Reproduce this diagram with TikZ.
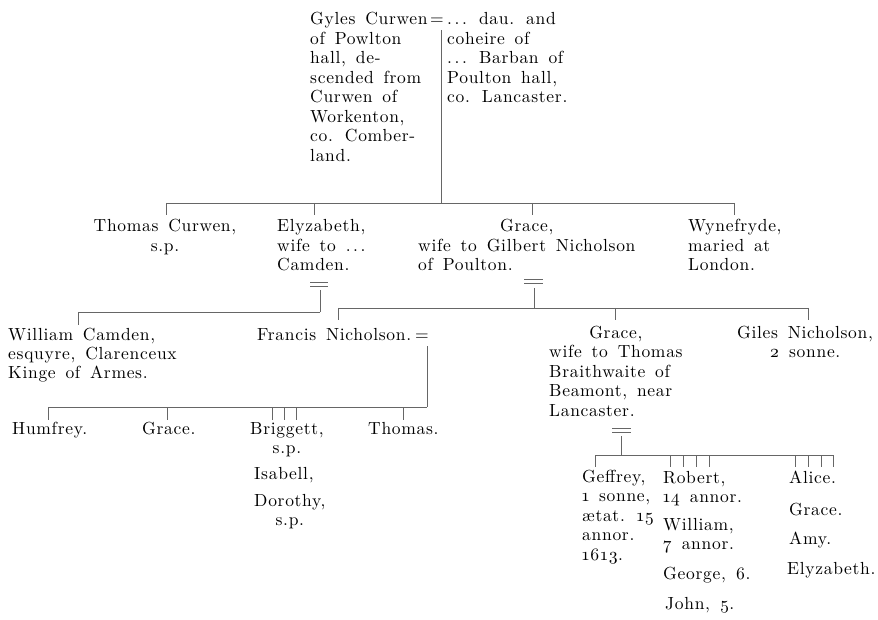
\documentclass[tikz,border=0pt]{standalone}
\usepackage{array}
\usepackage{fontspec}
\setmainfont{lmroman10-regular.otf}[LetterSpace=4, WordSpace=1.5]
\newcommand\Lb[1]{\begin{tabular}[t]{@{}l@{}}#1\end{tabular}}
\newcommand\Cb[1]{\begin{tabular}[t]{@{}c@{}}#1\end{tabular}}
\newcommand\os[1]{\oldstylenums{#1}}
\newcommand\dd{.\hspace{0.15em}.\hspace{0.15em}.}
\begin{document}
\begin{tikzpicture}[x=1pt,y=-1pt,
  txt/.style={inner sep=0pt, anchor=base west, font=\fontsize{17.5}{19.5}\selectfont, text=black},
  ctxt/.style={txt, anchor=base},
  ln/.style={line width=0.6pt, draw=black!60}]
\useasboundingbox (0,0) rectangle (878,620);

% ---- generation 1
\node[txt] (gyles) at (310,25) {\Lb{Gyles Curwen\\of Powlton\\hall, de-\\scended from\\Curwen of\\Workenton,\\co. Comber-\\land.}};
\node[txt] (m1) at (430,25) {=};
\node[txt] (dau) at (447,25) {\Lb{\dd{} dau. and\\coheire of\\\dd{} Barban of\\Poulton hall,\\co. Lancaster.}};
\coordinate (m1d) at (441,30);
\coordinate (b1L) at (166,203);
\coordinate (b1R) at (734,203);
\coordinate (b1m) at (441,203);
\draw[ln] (m1d) -- (b1m);
\draw[ln] (b1L) -- (b1R);

% ---- generation 2
\node[ctxt] (thomasC) at (165,232) {\Cb{Thomas Curwen,\\s.p.}};
\node[txt] (elyz) at (277,232) {\Lb{Elyzabeth,\\wife to \dd\\Camden.}};
\node[txt] (graceN) at (418,232) {\Lb{\multicolumn{1}{c}{Grace,}\\wife to Gilbert Nicholson\\of Poulton.}};
\node[txt] (wyne) at (688,232) {\Lb{Wynefryde,\\maried at\\London.}};
\foreach \x in {166,314,532,734} \draw[ln] (\x,203) -- (\x,215);

% Camden marriage
\draw[ln] (310,282) -- (328,282) (310,286) -- (328,286);
\coordinate (cam) at (320,290);
\coordinate (b2L) at (78,312);
\coordinate (b2R) at (320,312);
\draw[ln] (cam) -- (b2R);
\draw[ln] (b2L) -- (b2R);
\draw[ln] (78,312) -- (78,325);

% Nicholson marriage
\draw[ln] (524,279) -- (543,279) (524,283) -- (543,283);
\coordinate (nic) at (534,288);
\coordinate (b3L) at (338,308);
\coordinate (b3R) at (808,308);
\draw[ln] (nic) -- (534,308);
\draw[ln] (b3L) -- (b3R);
\foreach \x in {338,615,808} \draw[ln] (\x,308) -- (\x,320);

% ---- generation 3
\node[txt] (william) at (8,340) {\Lb{William Camden,\\esquyre, Clarenceux\\Kinge of Armes.}};
\node[txt] (francis) at (257,340) {Francis Nicholson.};
\node[txt] (m2) at (415,340) {=};
\node[txt] (graceB) at (549,338) {\Lb{\multicolumn{1}{c}{Grace,\hspace{18pt}}\\wife to Thomas\\Braithwaite of\\Beamont, near\\Lancaster.}};
\node[ctxt] (giles) at (805,338) {\Cb{Giles Nicholson,\\\os{2} sonne.}};

% Francis's issue
\coordinate (fr) at (427,346);
\coordinate (b4L) at (48,407);
\coordinate (b4R) at (427,407);
\draw[ln] (fr) -- (b4R);
\draw[ln] (b4L) -- (b4R);
\foreach \x in {48,167,272,284,296,403} \draw[ln] (\x,407) -- (\x,420);

% Braithwaite marriage
\draw[ln] (612,428) -- (631,428) (612,432) -- (631,432);
\coordinate (br) at (621,436);
\coordinate (b5L) at (595,455);
\coordinate (b5R) at (833,455);
\draw[ln] (br) -- (621,455);
\draw[ln] (b5L) -- (b5R);
\foreach \x in {595,670,683,696,709,795,808,821,833} \draw[ln] (\x,455) -- (\x,467);

% ---- generation 4 (left)
\node[txt] (humfrey) at (12,434) {Humfrey.};
\node[txt] (grace4) at (142,434) {Grace.};
\node[txt] (briggett) at (250,434) {\Lb{Briggett,\\\multicolumn{1}{c}{s.p.}}};
\node[txt] (isabell) at (254,479) {Isabell,};
\node[txt] (dorothy) at (254,506) {\Lb{Dorothy,\\\multicolumn{1}{c}{s.p.}}};
\node[txt] (thomas4) at (368,434) {Thomas.};

% ---- generation 4 (right)
\node[txt] (geffrey) at (582,482) {\Lb{Geffrey,\\\os{1} sonne,\\ætat. \os{15}\\annor.\\\os{1613}.}};
\node[txt] (robert) at (663,483) {\Lb{Robert,\\\os{14} annor.}};
\node[txt] (williamB) at (663,530) {\Lb{William,\\\os{7} annor.}};
\node[txt] (george) at (663,579) {George, \os{6}.};
\node[txt] (john) at (665,609) {John, \os{5}.};
\node[txt] (alice) at (789,483) {Alice.};
\node[txt] (grace5) at (789,515) {Grace.};
\node[txt] (amy) at (789,544) {Amy.};
\node[txt] (elyz5) at (787,574) {Elyzabeth.};
\end{tikzpicture}
\end{document}
